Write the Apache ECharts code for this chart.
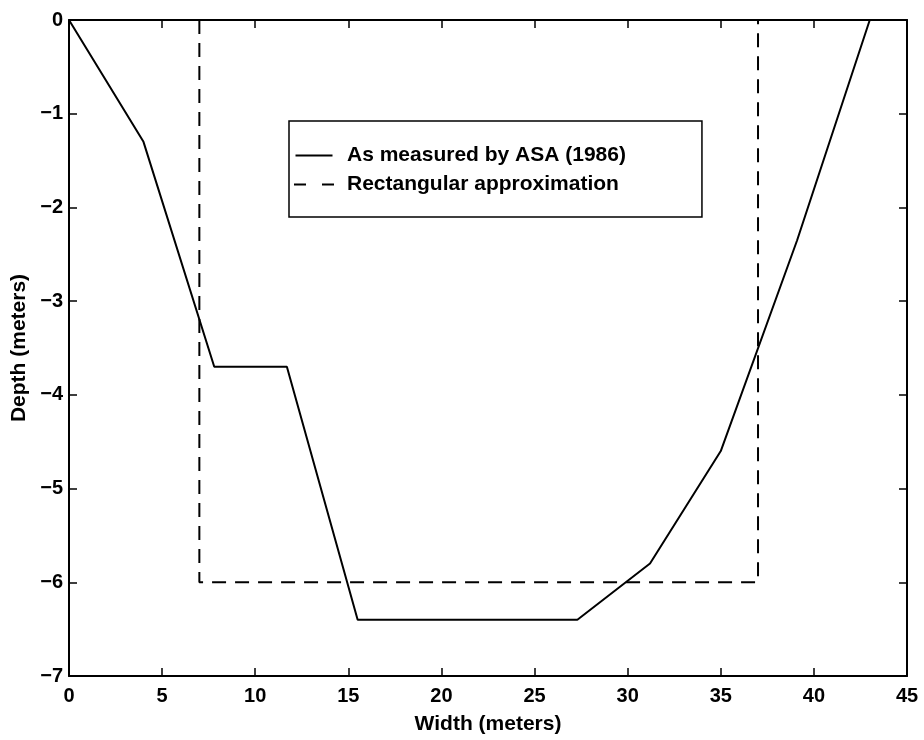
<!DOCTYPE html>
<html>
<head>
<meta charset="utf-8">
<script src="https://cdn.jsdelivr.net/npm/echarts@6/dist/echarts.min.js"></script>
<style>
  html, body { margin: 0; padding: 0; background: #fff; }
  #chart { width: 924px; height: 740px; }
</style>
</head>
<body>
<div id="chart"></div>
<script>
// channel cross-section
const measuredWidth = [0, 4, 7.8, 11.7, 15.5, 27.3, 31.2, 35, 39.1, 43];
const measuredDepth = [0, -1.3, -3.7, -3.7, -6.4, -6.4, -5.8, -4.6, -2.35, 0];
const rectWidth = [7, 7, 37, 37];
const rectDepth = [0, -6, -6, 0];

const xTicks = [0, 5, 10, 15, 20, 25, 30, 35, 40, 45];
const yTicks = [0, -1, -2, -3, -4, -5, -6, -7];

const seriesNames = ['As measured by ASA (1986)', 'Rectangular approximation'];

const font = 'Liberation Sans, Arial, Helvetica, sans-serif';

function minus(v) {
  return String(v).replace('-', '\u2212');
}

const chart = echarts.init(document.getElementById('chart'));

const baseX = {
  type: 'value',
  min: xTicks[0],
  max: xTicks[xTicks.length - 1],
  interval: 5,
  splitLine: { show: false },
  axisLine: { show: true, onZero: false, lineStyle: { color: '#000', width: 2 } },
  axisTick: { show: true, inside: true, length: 8, lineStyle: { color: '#000', width: 1.5 } }
};
const baseY = {
  type: 'value',
  min: yTicks[yTicks.length - 1],
  max: yTicks[0],
  interval: 1,
  splitLine: { show: false },
  axisLine: { show: true, onZero: false, lineStyle: { color: '#000', width: 2 } },
  axisTick: { show: true, inside: true, length: 8, lineStyle: { color: '#000', width: 1.5 } }
};

let option = {
  animation: false,
  backgroundColor: '#fff',
  grid: { left: 69, right: 17, top: 20, bottom: 59 },
  legend: {
    orient: 'vertical',
    left: 289,
    top: 121,
    padding: [24, 76, 22, 5],
    itemGap: 8,
    itemWidth: 40,
    itemHeight: 2,
    borderColor: '#000',
    borderWidth: 1.5,
    borderRadius: 0,
    backgroundColor: '#fff',
    itemStyle: { color: '#000' },
    textStyle: { color: '#000', fontSize: 21, lineHeight: 20, fontFamily: font, fontWeight: 'bold', padding: [0, 0, 0, 8] },
    data: [
      { name: seriesNames[0], icon: 'path://M4,0H41V2H4Z' },
      { name: seriesNames[1], icon: 'path://M0,0H12V2H0Z M28,0H40V2H28Z' }
    ]
  },
  xAxis: [
    Object.assign({}, baseX, {
      position: 'bottom',
      name: 'Width (meters)',
      nameLocation: 'middle',
      nameGap: 38,
      nameTextStyle: { color: '#000', fontSize: 21, fontFamily: font, fontWeight: 'bold' },
      axisLabel: { color: '#000', fontSize: 20, fontFamily: font, fontWeight: 'bold', margin: 10, formatter: minus }
    }),
    Object.assign({}, baseX, { position: 'top', axisLabel: { show: false } })
  ],
  yAxis: [
    Object.assign({}, baseY, {
      position: 'left',
      name: 'Depth (meters)',
      nameLocation: 'middle',
      nameGap: 33,
      nameTextStyle: { color: '#000', fontSize: 21, fontFamily: font, fontWeight: 'bold' },
      axisLabel: { color: '#000', fontSize: 20, fontFamily: font, fontWeight: 'bold', margin: 6, formatter: minus }
    }),
    Object.assign({}, baseY, { position: 'right', axisLabel: { show: false } })
  ],
  series: [
    {
      name: seriesNames[0],
      type: 'line',
      symbol: 'none',
      color: '#000',
      lineStyle: { color: '#000', width: 2 },
      data: measuredWidth.map((w, i) => [w, measuredDepth[i]])
    },
    {
      name: seriesNames[1],
      type: 'line',
      symbol: 'none',
      color: '#000',
      lineStyle: { color: '#000', width: 2, type: [14, 9] },
      data: rectWidth.map((w, i) => [w, rectDepth[i]])
    }
  ]
};
chart.setOption(option);
</script>
</body>
</html>
